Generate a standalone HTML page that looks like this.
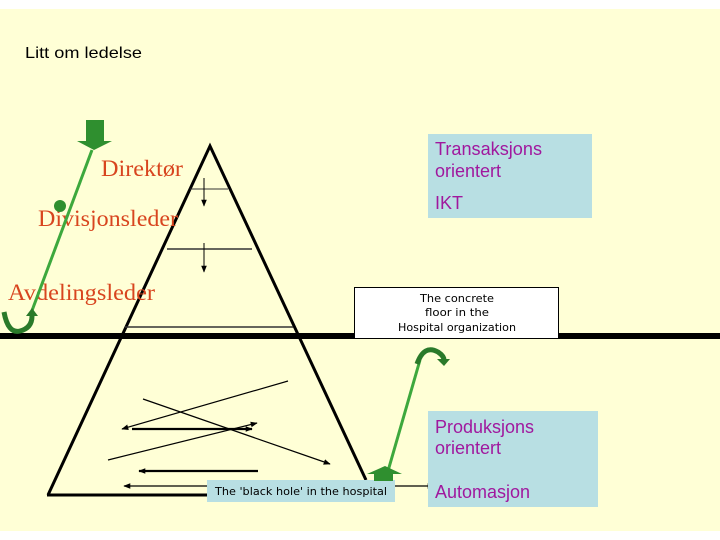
<!DOCTYPE html>
<html><head><meta charset="utf-8"><style>
html,body{margin:0;padding:0;background:#fff;}
svg{display:block;}
</style></head><body>
<svg width="720" height="540" viewBox="0 0 720 540" xmlns="http://www.w3.org/2000/svg">
<defs>
<marker id="ah" viewBox="0 0 10 10" refX="9" refY="5" markerWidth="7" markerHeight="7" markerUnits="userSpaceOnUse" orient="auto"><path d="M0,1 L10,5 L0,9 z" fill="#000"/></marker>
</defs>
<rect x="0" y="9" width="720" height="522" fill="#ffffd6"/>
<text x="25" y="58" font-family="Liberation Sans, sans-serif" font-size="16" fill="#000" textLength="117" lengthAdjust="spacingAndGlyphs">Litt om ledelse</text>

<!-- pyramid -->
<polyline points="48,495 210,146 366,480" fill="none" stroke="#000" stroke-width="3"/>
<line x1="47" y1="495" x2="208" y2="495" stroke="#000" stroke-width="3"/>
<line x1="190" y1="189" x2="228" y2="189" stroke="#333" stroke-width="1"/>
<line x1="167" y1="249" x2="252" y2="249" stroke="#333" stroke-width="1.5"/>
<line x1="204" y1="178" x2="204" y2="206" stroke="#000" stroke-width="1" marker-end="url(#ah)"/>
<line x1="204" y1="243" x2="204" y2="272" stroke="#000" stroke-width="1" marker-end="url(#ah)"/>
<line x1="125" y1="327" x2="293" y2="327" stroke="#333" stroke-width="1.5"/>
<rect x="0" y="333" width="720" height="6" fill="#000"/>

<!-- chaos arrows -->
<line x1="288" y1="381" x2="122" y2="429" stroke="#000" stroke-width="1.2" marker-end="url(#ah)"/>
<line x1="143" y1="399" x2="330" y2="464" stroke="#000" stroke-width="1.2" marker-end="url(#ah)"/>
<line x1="132" y1="429" x2="252" y2="429" stroke="#000" stroke-width="2.2" marker-end="url(#ah)"/>
<line x1="108" y1="460" x2="257" y2="423" stroke="#000" stroke-width="1.2" marker-end="url(#ah)"/>
<line x1="258" y1="471" x2="139" y2="471" stroke="#000" stroke-width="2.2" marker-end="url(#ah)"/>
<line x1="210" y1="486" x2="124" y2="486" stroke="#000" stroke-width="1.2" marker-end="url(#ah)"/>
<line x1="394" y1="486" x2="434" y2="486" stroke="#000" stroke-width="1.2" marker-end="url(#ah)"/>
<rect x="207" y="480" width="188" height="22" fill="#b8dfe3"/>
<text x="301" y="495" text-anchor="middle" font-family="DejaVu Sans, sans-serif" font-size="11" fill="#000" textLength="172" lengthAdjust="spacingAndGlyphs">The 'black hole' in the hospital</text>

<!-- labels -->
<g font-family="Liberation Serif, serif" font-size="23" fill="#d8451f">
<text x="101" y="176" textLength="82" lengthAdjust="spacingAndGlyphs">Direktør</text>
<text x="38" y="226" textLength="140" lengthAdjust="spacingAndGlyphs">Divisjonsleder</text>
<text x="8" y="300" textLength="147" lengthAdjust="spacingAndGlyphs">Avdelingsleder</text>
</g>

<!-- left green -->
<rect x="86" y="120" width="18" height="21" fill="#2f8f2f"/>
<polygon points="77,141 112,141 94,150" fill="#2f8f2f"/>
<line x1="92" y1="150" x2="30" y2="316" stroke="#3da83d" stroke-width="3"/>
<circle cx="60" cy="206" r="6" fill="#2f8f2f"/>
<path d="M4,312 Q8,334 20,331 Q32,328 32,316" fill="none" stroke="#2a7a2a" stroke-width="5"/>
<polygon points="26,316 38,316 32,308" fill="#2a7a2a"/>

<!-- right green -->
<line x1="388" y1="471" x2="420" y2="360" stroke="#3da83d" stroke-width="3"/>
<rect x="374" y="472" width="19" height="9" fill="#2f8f2f"/>
<polygon points="367,474 402,474 385,466" fill="#2f8f2f"/>
<path d="M417,364 Q424,344 438,352 Q444,356 444,360" fill="none" stroke="#2a7a2a" stroke-width="5"/>
<polygon points="437,359 450,359 444,366" fill="#2a7a2a"/>

<!-- boxes -->
<rect x="354.5" y="287.5" width="204" height="51" fill="#fff" stroke="#000" stroke-width="1"/>
<g font-family="DejaVu Sans, sans-serif" font-size="11" fill="#000" text-anchor="middle">
<text x="457" y="302" textLength="74" lengthAdjust="spacingAndGlyphs">The concrete</text>
<text x="457" y="316" textLength="64" lengthAdjust="spacingAndGlyphs">floor in the</text>
<text x="457" y="331" textLength="118" lengthAdjust="spacingAndGlyphs">Hospital organization</text>
</g>
<rect x="428" y="134" width="164" height="84" fill="#b8dfe3"/>
<rect x="428" y="411" width="170" height="96" fill="#b8dfe3"/>
<g font-family="Liberation Sans, sans-serif" font-size="18" fill="#a0189e">
<text x="435" y="155" textLength="107" lengthAdjust="spacingAndGlyphs">Transaksjons</text>
<text x="435" y="177" textLength="66" lengthAdjust="spacingAndGlyphs">orientert</text>
<text x="435" y="209" textLength="28" lengthAdjust="spacingAndGlyphs">IKT</text>
<text x="435" y="433" textLength="99" lengthAdjust="spacingAndGlyphs">Produksjons</text>
<text x="435" y="454" textLength="66" lengthAdjust="spacingAndGlyphs">orientert</text>
<text x="435" y="498" textLength="95" lengthAdjust="spacingAndGlyphs">Automasjon</text>
</g>
</svg>
</body></html>
